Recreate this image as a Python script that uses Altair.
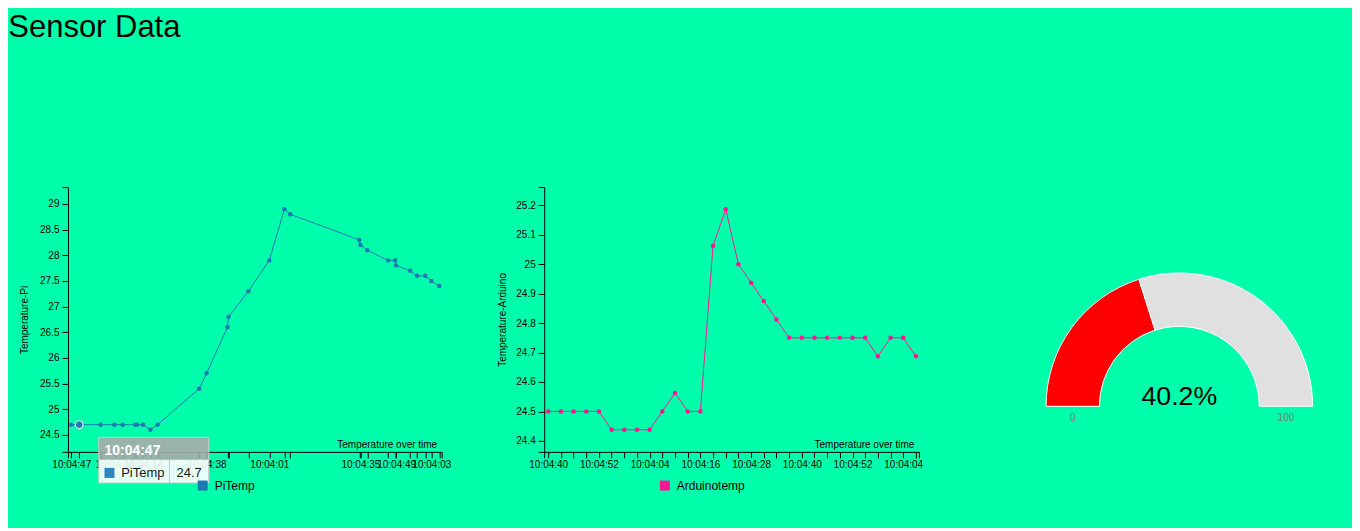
import math
import altair as alt
import pandas as pd

# ---------------- data ----------------
page_title = "Sensor Data"

# Pi sensor: seconds since first reading, temperature, tick labels shown
pi_secs = [0, 3.0, 11.1, 16.3, 19.4, 24.2, 24.9, 27.1, 29.9, 32.6, 48.3, 51.1, 59.0, 59.4,
           66.9, 74.8, 80.5, 82.7, 108.8, 109.2, 111.8, 119.7, 122.4, 122.7, 128.0, 130.6,
           133.7, 136.0, 139.0]
pi_temp = [24.7, 24.7, 24.7, 24.7, 24.7, 24.7, 24.7, 24.7, 24.6, 24.7, 25.4, 25.7, 26.6, 26.8,
           27.3, 27.9, 28.9, 28.8, 28.3, 28.2, 28.1, 27.9, 27.9, 27.8, 27.7, 27.6,
           27.6, 27.5, 27.4]
pi_tick_labels = ["10:04:47", "", "", "10:04:03", "", "", "", "10:04:14", "", "", "", "10:04:38",
                  "", "", "", "10:04:01", "", "", "", "10:04:35", "", "", "", "10:04:49",
                  "", "", "", "10:04:03", ""]
pi_yticks = [24.5, 25, 25.5, 26, 26.5, 27, 27.5, 28, 28.5, 29]
pi_series = "PiTemp"
pi_ytitle = "Temperature-Pi"

# Arduino sensor
ard_secs = [0, 3, 6, 9, 12, 15, 18, 21, 24, 27, 30, 33, 36, 39, 42, 45, 48, 51, 54, 57,
            60, 63, 66, 69, 72, 75, 78, 81, 84, 87]
ard_temp = [24.5, 24.5, 24.5, 24.5, 24.5, 24.4375, 24.4375, 24.4375, 24.4375, 24.5,
            24.5625, 24.5, 24.5, 25.0625, 25.1875, 25.0, 24.9375, 24.875, 24.8125, 24.75,
            24.75, 24.75, 24.75, 24.75, 24.75, 24.75, 24.6875, 24.75, 24.75, 24.6875]
ard_tick_labels = ["10:04:40", "", "", "", "10:04:52", "", "", "", "10:04:04", "", "", "",
                   "10:04:16", "", "", "", "10:04:28", "", "", "", "10:04:40", "", "", "",
                   "10:04:52", "", "", "", "10:04:04", ""]
ard_yticks = [24.4, 24.5, 24.6, 24.7, 24.8, 24.9, 25.0, 25.1, 25.2]
ard_series = "Arduinotemp"
ard_ytitle = "Temperature-Arduino"

x_title = "Temperature over time"

# Gauge
gauge_value = 40.2
gauge_min, gauge_max = 0, 100
gauge_parts = ["value", "rest"]
gauge_vals = [40.2, 59.8]

# Hover tooltip shown on the Pi chart (point index 1)
tip_index = 1
tip_title = "10:04:47"
tip_name = "PiTemp"
tip_value = "24.7"

# ---------------- style ----------------
BG = "#00ffaa"
FONT = "Liberation Sans"
PI_COLOR = "#1f77b4"
ARD_COLOR = "#ff1493"
PW1, PW2, PH = 374, 375, 265


def label_expr(secs, labels):
    parts = [f"datum.value == {s} ? '{l}' : " for s, l in zip(secs, labels) if l]
    return "".join(parts) + "''"


def line_panel(secs, temps, labels, xdom, ydom, yticks, series, color, ytitle, width,
               ytitle_x, legend_x):
    df = pd.DataFrame({"t": secs, "temp": temps, "series": series})
    x = alt.X("t:Q",
              scale=alt.Scale(domain=xdom, nice=False, zero=False),
              axis=alt.Axis(values=[xdom[0]] + list(secs) + [xdom[1]],
                            labelExpr=label_expr(secs, labels),
                            labelOverlap=False, labelFlush=False, labelPadding=2,
                            title=x_title, titleX=width - 5, titleY=-4.6,
                            titleAlign="right", titleBaseline="alphabetic"))
    y = alt.Y("temp:Q",
              scale=alt.Scale(domain=ydom, nice=False, zero=False),
              axis=alt.Axis(values=[ydom[0]] + yticks + [ydom[1]], format="~g",
                            labelExpr=f"(datum.value < {yticks[0]} || datum.value > {yticks[-1]}) ? '' : datum.label",
                            labelOverlap=False, labelFlush=False,
                            labelPadding=3, title=ytitle, titleX=ytitle_x))
    base = alt.Chart(df).encode(x=x, y=y)
    line = base.mark_line(color=color, strokeWidth=1)
    pts = base.mark_circle(size=20, opacity=1).encode(
        color=alt.Color("series:N",
                        scale=alt.Scale(domain=[series], range=[color]),
                        legend=alt.Legend(title=None, orient="none", legendX=legend_x,
                                          legendY=292.7, symbolType="square", symbolSize=100,
                                          symbolOpacity=1, symbolStrokeWidth=0,
                                          labelFontSize=12, labelFont=FONT,
                                          labelColor="black", labelOffset=6, padding=0)))
    return df, x, y, [line, pts]


pi_df, pi_x, pi_y, pi_layers = line_panel(
    pi_secs, pi_temp, pi_tick_labels, [-1.25, 139.9], [24.17, 29.33], pi_yticks,
    pi_series, PI_COLOR, pi_ytitle, PW1, -38, 128.8)

# tooltip anchored to the hovered point (same x/y encodings as the Pi panel)
tip_df = pd.DataFrame({"t": [pi_secs[tip_index]], "temp": [pi_temp[tip_index]],
                       "title": [tip_title], "name": [tip_name], "value": [tip_value]})
tb = alt.Chart(tip_df).encode(x=pi_x, y=pi_y)
hover_pt = tb.mark_circle(size=61, color=PI_COLOR, opacity=1, stroke="white", strokeWidth=1)
rect_enc = dict(x2="t", y2="temp")
tip_head = tb.mark_rect(color="#aaaaaa", opacity=0.9, xOffset=19.6, x2Offset=129.6,
                        yOffset=12.7, y2Offset=35).encode(**rect_enc)
tip_body = tb.mark_rect(color="white", opacity=0.9, xOffset=19.6, x2Offset=129.6,
                        yOffset=35, y2Offset=58.3).encode(**rect_enc)
tip_border = tb.mark_rect(fillOpacity=0, stroke="#cccccc", strokeWidth=1, xOffset=19.6,
                          x2Offset=129.6, yOffset=12.7, y2Offset=58.3).encode(**rect_enc)
tip_htext = tb.mark_text(align="left", baseline="alphabetic", dx=25.3, dy=30.7, fontSize=14,
                         fontWeight="bold", color="white", font=FONT).encode(text="title:N")
tip_swatch = tb.mark_rect(color=PI_COLOR, opacity=0.9, xOffset=25.3, x2Offset=35.3,
                          yOffset=43.3, y2Offset=53.3).encode(**rect_enc)
tip_name_t = tb.mark_text(align="left", baseline="alphabetic", dx=42, dy=52.3, fontSize=13,
                          color="black", opacity=0.9, font=FONT).encode(text="name:N")
tip_sep = tb.mark_rule(color="#999999", strokeDash=[1, 1], strokeWidth=1, xOffset=90.3,
                       yOffset=35, y2Offset=58.3).encode(y2="temp")
tip_val_t = tb.mark_text(align="right", baseline="alphabetic", dx=122.6, dy=52.3, fontSize=13,
                         color="black", opacity=0.9, font=FONT).encode(text="value:N")

pi_chart = alt.layer(*pi_layers, hover_pt, tip_head, tip_body, tip_border, tip_htext,
                     tip_swatch, tip_name_t, tip_sep, tip_val_t).properties(width=PW1, height=PH)

ard_df, ard_x, ard_y, ard_layers = line_panel(
    ard_secs, ard_temp, ard_tick_labels, [-0.95, 87.71], [24.3625, 25.2625], ard_yticks,
    ard_series, ARD_COLOR, ard_ytitle, PW2, -37, 114.7)
ard_chart = alt.layer(*ard_layers).properties(width=PW2, height=PH)

# ---------------- gauge ----------------
theta_scale = alt.Scale(domain=[gauge_min, gauge_max], range=[-math.pi / 2, math.pi / 2])
g_df = pd.DataFrame({"part": gauge_parts, "val": gauge_vals, "ord": [0, 1]})
G_YOFF = 86.9
g_arc = alt.Chart(g_df).mark_arc(outerRadius=133.4, innerRadius=80, stroke="white",
                                 strokeWidth=1, yOffset=G_YOFF).encode(
    theta=alt.Theta("val:Q", stack=True, scale=theta_scale),
    color=alt.Color("part:N", scale=alt.Scale(domain=gauge_parts, range=["#ff0000", "#e0e0e0"]),
                    legend=None),
    order=alt.Order("ord:Q"))
g_tick_df = pd.DataFrame({"v": [gauge_min, gauge_max], "lab": [str(gauge_min), str(gauge_max)]})
g_ticks = alt.Chart(g_tick_df).mark_text(radius=106.7, yOffset=G_YOFF, dy=14.5, fontSize=10,
                                         color="#777777", font=FONT, baseline="alphabetic").encode(
    theta=alt.Theta("v:Q", scale=theta_scale), text="lab:N")
g_val = alt.Chart(pd.DataFrame({"lab": [f"{gauge_value}%"]})).mark_text(
    fontSize=26.7, yOffset=G_YOFF, dy=-1.7, baseline="alphabetic", font=FONT,
    color="black").encode(text="lab:N")
gauge = alt.layer(g_arc, g_ticks, g_val).properties(width=316, height=PH)

chart = alt.hconcat(pi_chart, ard_chart, gauge, spacing=102.6, bounds="flush").resolve_scale(
    color="independent"
).properties(
    title=alt.TitleParams(page_title, anchor="start", frame="group", fontSize=31, font=FONT,
                          fontWeight="normal", color="black", offset=114.2,
                          baseline="alphabetic", dx=-59.7),
    padding={"left": 0, "top": 3, "right": 14, "bottom": 36},
    background=BG,
).configure_view(stroke=None).configure_axis(
    grid=False, domainColor="black", tickColor="black", labelColor="black", labelFont=FONT,
    labelFontSize=10, titleFont=FONT, titleFontSize=10, titleFontWeight="normal",
    titleColor="black", tickSize=6, domainWidth=1, tickWidth=1,
)

chart.save("out.html", embed_options={"renderer": "svg", "actions": False})
